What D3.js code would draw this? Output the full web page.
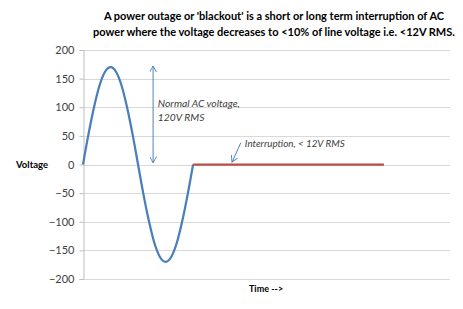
<!DOCTYPE html>
<html>
<head>
<meta charset="utf-8">
<script src="https://cdn.jsdelivr.net/npm/d3@7"></script>
<style>
  body { margin: 0; background: #fff; }
  svg { font-family: Lato, "Open Sans", sans-serif; }
</style>
</head>
<body>
<div id="chart"></div>
<script>
// one cycle of the normal supply, then the outage (time in arbitrary units)
const sineTime = [0, 1.5, 3, 4.5, 6, 7.5, 9, 10.5, 12, 13.5, 15, 16.5, 18, 19.5, 21, 22.5, 24, 25.5, 27, 28.5, 30]
const sineVolts = [0, 53, 100, 138, 162, 170, 162, 138, 100, 53, 0, -53, -100, -138, -162, -170, -162, -138, -100, -53, 0]
const outageTime = [30, 82]
const outageVolts = [0, 0]
const yTicks = [-200, -150, -100, -50, 0, 50, 100, 150, 200]
const titleLines = [
  "A power outage or 'blackout' is a short or long term interruption of AC",
  "power where the voltage decreases to <10% of line voltage i.e. <12V RMS."
]

const width = 463, height = 309
const margin = { left: 83, right: 13, top: 50, bottom: 30 }

const svg = d3.select('#chart')
  .append('svg')
  .attr('width', width)
  .attr('height', height)

const x = d3.scaleLinear().domain([0, 100]).range([margin.left, width - margin.right])
const y = d3.scaleLinear().domain([-200, 200]).range([height - margin.bottom, margin.top])

// grid
svg.append('g')
  .selectAll('line')
  .data(yTicks)
  .join('line')
  .attr('x1', margin.left)
  .attr('x2', width - margin.right)
  .attr('y1', d => Math.round(y(d)) + 0.5)
  .attr('y2', d => Math.round(y(d)) + 0.5)
  .attr('stroke', '#d9d9d9')

// y axis
const yAxis = svg.append('g')
  .attr('transform', `translate(${margin.left + 0.5},0)`)
  .call(d3.axisLeft(y).tickValues(yTicks).tickSize(4).tickPadding(5))
yAxis.select('.domain').attr('stroke', '#bfbfbf')
yAxis.selectAll('.tick line').attr('stroke', '#bfbfbf')
yAxis.selectAll('.tick text')
  .attr('fill', '#404040')
  .attr('font-size', 11)
  .attr('font-family', 'Lato, sans-serif')

svg.append('text')
  .attr('x', 16)
  .attr('y', y(0))
  .attr('dy', '0.35em')
  .attr('font-size', 9.5)
  .attr('font-weight', 'bold')
  .attr('fill', '#000')
  .text('Voltage')

svg.append('text')
  .attr('x', 249)
  .attr('y', 292)
  .attr('font-size', 9)
  .attr('font-weight', 'bold')
  .attr('fill', '#000')
  .text('Time -->')

// title
svg.append('g')
  .selectAll('text')
  .data(titleLines)
  .join('text')
  .attr('x', 274)
  .attr('y', (d, i) => 20 + i * 16)
  .attr('text-anchor', 'middle')
  .attr('font-size', 11)
  .attr('font-weight', 'bold')
  .attr('fill', '#000')
  .text(d => d)

// series
const line = d3.line()
  .x(d => x(d[0]))
  .y(d => y(d[1]))

svg.append('path')
  .datum(d3.zip(sineTime, sineVolts))
  .attr('fill', 'none')
  .attr('stroke', '#4a7ebb')
  .attr('stroke-width', 2.25)
  .attr('d', line.curve(d3.curveMonotoneX))

svg.append('path')
  .datum(d3.zip(outageTime, outageVolts))
  .attr('fill', 'none')
  .attr('stroke', '#be4b48')
  .attr('stroke-width', 2.25)
  .attr('d', line.curve(d3.curveLinear))

// annotations
const defs = svg.append('defs')
defs.append('marker')
  .attr('id', 'head')
  .attr('viewBox', '0 0 10 10')
  .attr('refX', 9)
  .attr('refY', 5)
  .attr('markerWidth', 7)
  .attr('markerHeight', 7)
  .attr('markerUnits', 'userSpaceOnUse')
  .attr('orient', 'auto-start-reverse')
  .append('path')
  .attr('d', 'M0,0L9,5L0,10')
  .attr('fill', 'none')
  .attr('stroke', '#4f81bd')
  .attr('stroke-width', 1.3)

svg.append('line')
  .attr('x1', x(19.1)).attr('y1', y(172))
  .attr('x2', x(19.1)).attr('y2', y(3))
  .attr('stroke', '#4f81bd')
  .attr('stroke-width', 1)
  .attr('marker-start', 'url(#head)')
  .attr('marker-end', 'url(#head)')

svg.append('line')
  .attr('x1', x(43)).attr('y1', y(38))
  .attr('x2', x(40.6)).attr('y2', y(4))
  .attr('stroke', '#4f81bd')
  .attr('stroke-width', 1)
  .attr('marker-end', 'url(#head)')

const note = svg.append('g')
  .attr('font-size', 10.3)
  .attr('font-style', 'italic')
  .attr('fill', '#404040')

note.append('text').attr('x', x(20.4)).attr('y', y(100)).text('Normal AC voltage,')
note.append('text').attr('x', x(20.4)).attr('y', y(76)).text('120V RMS')
note.append('text').attr('x', x(44.1)).attr('y', y(30)).attr('font-size', 9.8).text('Interruption, < 12V RMS')
</script>
</body>
</html>
